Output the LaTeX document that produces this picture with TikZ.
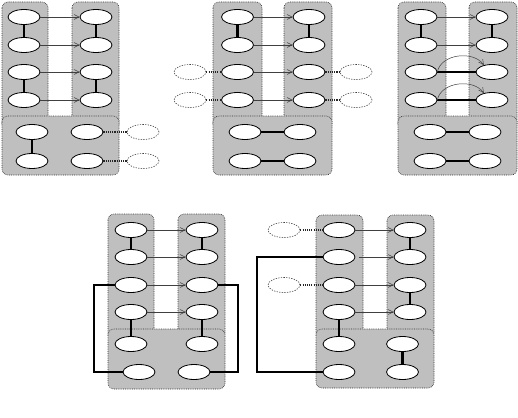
\documentclass[tikz,border=0pt]{standalone}
\usetikzlibrary{shapes.geometric,arrows.meta}
\begin{document}
\begin{tikzpicture}[x=1pt,y=-1pt,
  el/.style={ellipse,draw=black,line width=0.8pt,fill=white,minimum width=32pt,minimum height=15pt,inner sep=0pt},
  del/.style={ellipse,draw=black!75,dash pattern=on 1.3pt off 1.3pt,line width=0.6pt,fill=white,minimum width=32pt,minimum height=15pt,inner sep=0pt},
  grp/.style={draw=black!80,dash pattern=on 0.8pt off 1pt,line width=0.6pt,fill=black!25,rounded corners=6pt},
  arr/.style={draw=black!75,line width=0.5pt,-{Straight Barb[length=5pt,width=5pt]}},
  thk/.style={line width=2.2pt,black},
  dotc/.style={line width=2.4pt,black!85,dash pattern=on 1.1pt off 1.1pt}]
\useasboundingbox (0,0) rectangle (518,417);
% ---------------- Panel 1 ----------------
\path[grp] (2,2) rectangle (48,130);
\path[grp] (72,2) rectangle (119,130);
\path[grp] (2,116) rectangle (119,175);
\foreach \i/\y in {1/17,2/45,3/72,4/100}{
  \node[el] (pa\i) at (24,\y) {};
  \node[el] (pb\i) at (96,\y) {};
}
\node[el] (pc1) at (32,132) {};
\node[el] (pc2) at (32,161) {};
\node[el] (pd1) at (87,132) {};
\node[el] (pd2) at (87,161) {};
\node[del] (pe1) at (143,132) {};
\node[del] (pe2) at (143,161) {};
\foreach \i in {1,...,4}{\draw[arr] (pa\i) -- (pb\i);}
\draw[thk] (pa1) -- (pa2); \draw[thk] (pa3) -- (pa4);
\draw[thk] (pb1) -- (pb2); \draw[thk] (pb3) -- (pb4);
\draw[thk] (pc1) -- (pc2);
\draw[dotc] (pd1) -- (pe1); \draw[dotc] (pd2) -- (pe2);
% ---------------- Panel 2 ----------------
\path[grp] (213,2) rectangle (262,130);
\path[grp] (284,2) rectangle (332,130);
\path[grp] (213,116) rectangle (332,175);
\foreach \i/\y in {1/17,2/45,3/72,4/100}{
  \node[el] (qa\i) at (237.5,\y) {};
  \node[el] (qb\i) at (309,\y) {};
}
\node[el] (qc1) at (245,132) {};
\node[el] (qc2) at (245,161) {};
\node[el] (qd1) at (300,132) {};
\node[el] (qd2) at (300,161) {};
\node[del] (qe3) at (190,72) {};
\node[del] (qe4) at (190,100) {};
\node[del] (qf3) at (356,72) {};
\node[del] (qf4) at (356,100) {};
\foreach \i in {1,...,4}{\draw[arr] (qa\i) -- (qb\i);}
\draw[thk] (qa1) -- (qa2); \draw[thk] (qb1) -- (qb2);
\draw[thk] (qc1) -- (qd1); \draw[thk] (qc2) -- (qd2);
\draw[dotc] (qe3) -- (qa3); \draw[dotc] (qe4) -- (qa4);
\draw[dotc] (qb3) -- (qf3); \draw[dotc] (qb4) -- (qf4);
% ---------------- Panel 3 ----------------
\path[grp] (398,2) rectangle (446,130);
\path[grp] (469,2) rectangle (517,130);
\path[grp] (398,116) rectangle (517,175);
\foreach \i/\y in {1/17,2/45,3/72,4/100}{
  \node[el] (ra\i) at (421,\y) {};
  \node[el] (rb\i) at (492,\y) {};
}
\node[el] (rc1) at (430,132) {};
\node[el] (rc2) at (430,161) {};
\node[el] (rd1) at (485,132) {};
\node[el] (rd2) at (485,161) {};
\draw[arr] (ra1) -- (rb1); \draw[arr] (ra2) -- (rb2);
\draw[thk] (ra1) -- (ra2); \draw[thk] (rb1) -- (rb2);
\draw[thk] (ra3) -- (rb3); \draw[thk] (ra4) -- (rb4);
\draw[arr] (ra3.east) to[out=80,in=125] (rb3.140);
\draw[arr] (ra4.east) to[out=80,in=125] (rb4.140);
\draw[thk] (rc1) -- (rd1); \draw[thk] (rc2) -- (rd2);
% ---------------- Panel 4 ----------------
\path[grp] (108,214) rectangle (154,340);
\path[grp] (178,214) rectangle (225,340);
\path[grp] (108,329) rectangle (225,389);
\foreach \i/\y in {1/230,2/257,3/285,4/312}{
  \node[el] (sa\i) at (131,\y) {};
  \node[el] (sb\i) at (202,\y) {};
}
\node[el] (sc1) at (131,344) {};
\node[el] (sc2) at (139,372) {};
\node[el] (sd1) at (202,344) {};
\node[el] (sd2) at (194,372) {};
\foreach \i in {1,...,4}{\draw[arr] (sa\i) -- (sb\i);}
\draw[thk] (sa1) -- (sa2); \draw[thk] (sb1) -- (sb2);
\draw[thk] (sa4) -- (sc1); \draw[thk] (sb4) -- (sd1);
\coordinate (sl1) at (94,285); \coordinate (sl2) at (94,372);
\coordinate (sr1) at (238,285); \coordinate (sr2) at (238,372);
\draw[thk,line join=miter] (sa3.west) -- (sl1) -- (sl2) -- (sc2.west);
\draw[thk,line join=miter] (sb3.east) -- (sr1) -- (sr2) -- (sd2.east);
% ---------------- Panel 5 ----------------
\path[grp] (316,215) rectangle (363,340);
\path[grp] (387,215) rectangle (434,340);
\path[grp] (316,329) rectangle (434,388);
\foreach \i/\y in {1/230,2/257,3/285,4/312}{
  \node[el] (ta\i) at (339,\y) {};
  \node[el] (tb\i) at (410,\y) {};
}
\node[el] (tc1) at (339,344) {};
\node[el] (tc2) at (339,372) {};
\node[el] (td1) at (402.5,344) {};
\node[el] (td2) at (402.5,372) {};
\node[del] (te1) at (284,230) {};
\node[del] (te3) at (284,285) {};
\draw[arr] (ta1) -- (tb1);
\draw[arr] ([xshift=4pt]ta2.east) -- (tb2);
\draw[arr] (ta3) -- (tb3);
\draw[arr] (ta4) -- (tb4);
\draw[thk] (tb1) -- (tb2); \draw[thk] (tb3) -- (tb4);
\draw[thk] (ta4) -- (tc1); \draw[thk] (td1) -- (td2);
\draw[dotc] (te1) -- (ta1); \draw[dotc] (te3) -- (ta3);
\coordinate (tl1) at (257,257); \coordinate (tl2) at (257,372);
\draw[thk,line join=miter] (ta2.west) -- (tl1) -- (tl2) -- (tc2.west);
\end{tikzpicture}
\end{document}
